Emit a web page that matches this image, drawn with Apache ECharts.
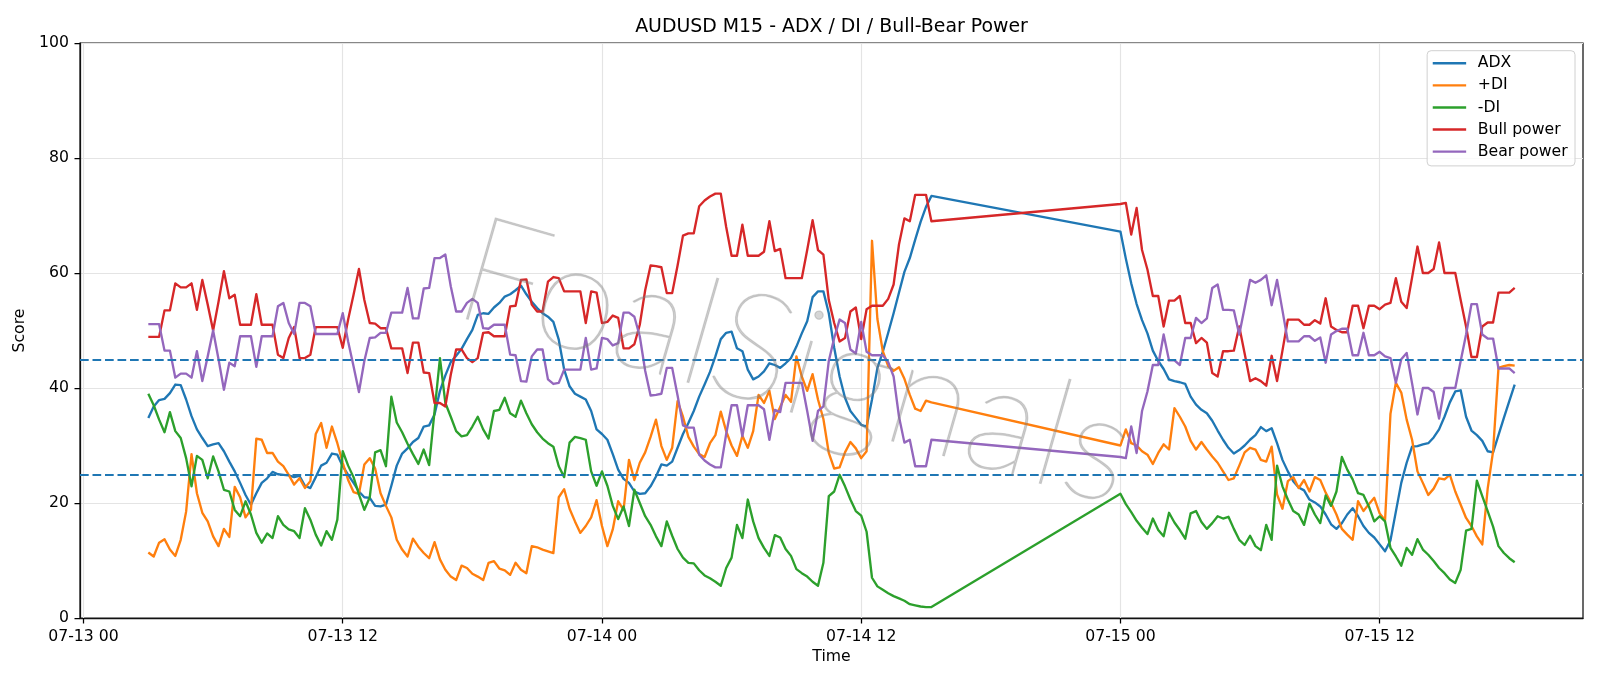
<!DOCTYPE html>
<html>
<head>
<meta charset="utf-8">
<title>AUDUSD M15 - ADX / DI / Bull-Bear Power</title>
<script src="https://cdn.jsdelivr.net/npm/echarts@6/dist/echarts.min.js"></script>
<style>
  html, body { margin: 0; padding: 0; background: #fff; }
  #chart { width: 1600px; height: 686px; }
</style>
</head>
<body>
<div id="chart"></div>
<script>
// M15 bars in two blocks (no bars between 07-14 15:15 and 07-15 00:00)
// hours are counted from 07-13 00:00
const segments = [
  { startHour: 3, bars: 146 },
  { startHour: 48, bars: 74 }
];

const tickHours = [0, 12, 24, 36, 48, 60];
const tickLabels = ['07-13 00', '07-13 12', '07-14 00', '07-14 12', '07-15 00', '07-15 12'];
const levels = [45, 25];

const adx = [
  34.8,36.8,37.9,38.1,39.1,40.6,40.5,38.0,35.1,32.8,
  31.3,29.9,30.2,30.4,29.0,27.2,25.5,23.5,21.4,19.7,
  21.7,23.5,24.3,25.4,25.0,24.9,24.8,24.5,24.7,23.0,
  22.6,24.5,26.5,27.0,28.6,28.4,26.4,24.9,23.5,22.0,
  21.0,20.9,19.5,19.4,19.7,23.0,26.5,28.6,29.5,30.6,
  31.3,33.3,33.5,35.4,39.5,42.2,44.5,45.6,46.8,48.5,
  50.1,52.7,53.0,52.9,54.0,54.8,55.9,56.3,57.0,57.8,
  56.3,55.0,53.9,53.0,52.4,51.5,48.4,43.2,40.3,39.0,
  38.5,38.0,36.0,32.8,32.0,31.0,28.5,25.8,24.2,23.5,
  22.0,21.6,21.7,22.9,24.6,26.7,26.5,27.2,29.6,32.0,
  33.9,36.0,38.5,40.6,42.8,45.5,48.5,49.6,49.8,46.9,
  46.4,43.2,41.5,42.0,42.9,44.3,44.0,43.5,44.3,45.2,
  47.2,49.5,51.6,55.8,56.8,56.8,53.0,47.0,42.0,38.3,
  36.0,34.8,33.6,33.3,38.0,43.5,46.3,49.6,53.0,56.6,
  60.2,62.6,65.8,68.9,71.5,73.4,
  67.2,62.5,58.2,54.6,51.8,49.5,46.5,44.7,43.3,41.5,
  41.2,41.0,40.7,38.5,37.1,36.2,35.6,34.3,32.6,31.0,
  29.6,28.6,29.2,30.0,31.0,31.8,33.2,32.5,33.0,30.4,
  27.5,25.5,23.8,22.7,22.2,20.6,20.1,19.4,18.0,16.3,
  15.5,16.5,18.0,19.1,17.7,16.0,14.8,14.0,12.8,11.6,
  13.5,18.5,23.5,27.0,29.8,29.9,30.2,30.4,31.4,32.8,
  35.0,37.5,39.4,39.6,35.0,32.6,31.8,30.8,29.0,28.8,
  31.8,34.8,37.7,40.6
];

const plusDI = [
  11.4,10.7,13.1,13.7,11.9,10.8,13.6,18.5,28.5,21.7,
  18.3,16.8,14.2,12.5,15.5,14.1,22.8,21.0,17.5,18.8,
  31.2,31.0,28.7,28.7,27.2,26.4,24.9,23.2,24.3,22.6,
  23.8,32.0,33.9,29.6,33.3,30.4,27.0,24.0,21.9,21.6,
  26.7,27.8,26.0,21.7,19.5,17.5,13.6,11.9,10.7,13.8,
  12.4,11.3,10.4,13.2,10.2,8.4,7.2,6.6,9.1,8.7,
  7.7,7.2,6.6,9.6,9.9,8.6,8.3,7.5,9.6,8.4,
  7.8,12.5,12.3,11.9,11.6,11.3,21.0,22.4,19.0,16.8,
  14.8,16.0,17.5,20.5,16.0,12.5,15.4,20.3,18.8,27.5,
  24.0,27.0,28.8,31.5,34.5,29.9,27.5,29.6,37.7,35.0,
  31.5,29.8,28.5,28.0,30.4,31.8,35.9,32.5,30.0,28.2,
  31.7,29.6,32.5,38.8,37.4,39.5,34.6,36.7,38.8,37.6,
  45.5,42.0,39.5,42.4,38.0,34.6,28.7,26.0,26.2,28.8,
  30.6,29.5,27.8,29.0,65.6,52.0,46.4,43.8,43.0,43.6,
  41.6,38.8,36.4,36.0,37.8,37.5,
  30.0,32.8,30.4,30.0,29.0,28.4,26.8,28.7,30.2,29.3,
  36.5,35.0,33.3,30.8,29.3,30.6,29.3,28.1,27.0,25.5,
  24.0,24.3,26.5,28.8,29.6,29.3,27.5,27.2,29.8,21.5,
  19.0,23.8,24.5,22.6,24.0,22.0,24.5,24.0,21.8,20.0,
  18.0,15.5,14.5,13.6,20.3,18.6,19.8,20.9,18.2,17.0,
  35.5,40.9,39.2,34.5,31.0,25.5,23.5,21.4,22.5,24.3,
  24.1,24.9,22.0,19.7,17.4,16.0,14.2,12.8,22.5,29.0,
  43.5,43.8,44.0,43.9
];

const minusDI = [
  39.0,37.0,34.5,32.3,35.8,32.5,31.3,27.8,22.9,28.2,
  27.5,24.3,28.1,25.5,22.3,22.0,18.8,17.7,20.3,18.0,
  14.8,13.1,14.7,13.9,17.7,16.2,15.4,15.1,13.9,19.1,
  17.1,14.5,12.6,15.1,13.6,17.1,29.0,26.5,24.5,21.5,
  18.8,21.0,28.8,29.2,26.4,38.5,34.0,32.3,30.3,28.5,
  26.8,29.3,26.6,36.0,45.2,37.4,35.0,32.5,31.6,31.8,
  33.3,35.0,32.8,31.2,36.0,36.2,38.3,35.6,35.0,37.8,
  35.6,33.7,32.3,31.2,30.4,29.8,26.4,24.5,30.5,31.5,
  31.3,31.0,25.5,23.0,25.5,23.0,19.5,17.2,19.4,16.0,
  22.3,20.0,17.7,16.2,14.2,12.5,16.8,14.3,12.0,10.5,
  9.6,9.5,8.3,7.4,6.9,6.3,5.6,8.7,10.5,16.2,
  13.9,20.6,16.8,13.9,12.2,10.8,14.4,14.0,12.0,10.8,
  8.5,7.8,7.2,6.3,5.6,9.6,21.2,22.0,24.9,22.9,
  20.6,18.6,17.8,15.0,7.0,5.5,4.9,4.3,3.8,3.4,
  3.0,2.4,2.2,2.0,1.9,1.9,
  21.6,19.8,18.4,16.9,15.7,14.6,17.3,15.3,14.2,18.3,
  16.6,15.3,13.8,18.2,18.6,16.7,15.5,16.5,17.7,17.3,
  17.6,15.5,13.6,12.7,14.3,12.5,11.8,16.2,13.6,26.5,
  22.9,20.6,18.6,18.0,16.2,19.9,18.0,16.5,21.3,19.5,
  22.0,28.0,25.8,24.1,21.7,21.4,19.4,16.8,17.7,16.8,
  12.2,10.7,9.1,12.2,11.0,13.7,11.9,11.0,9.9,8.7,
  7.8,6.7,6.1,8.4,15.2,15.5,23.9,21.2,18.6,15.9,
  12.5,11.3,10.4,9.7
];

const bullPower = [
  48.9,48.9,48.9,53.5,53.5,58.2,57.5,57.5,58.2,53.6,
  58.8,54.5,50.0,55.0,60.3,55.6,56.2,51.0,51.0,51.0,
  56.3,51.0,51.0,51.0,45.8,45.2,48.7,50.6,45.2,45.2,
  45.8,50.6,50.6,50.6,50.6,50.6,47.0,51.9,56.2,60.7,
  55.3,51.3,51.2,50.4,50.4,46.9,46.9,46.9,42.6,47.9,
  47.9,42.7,42.6,37.4,37.4,36.8,42.3,46.7,46.7,45.2,
  44.5,45.2,49.6,49.7,49.0,49.0,49.0,54.2,54.3,58.8,
  58.9,54.5,53.3,53.3,58.5,59.3,59.1,56.8,56.8,56.8,
  56.8,51.3,56.8,56.6,51.3,51.5,52.6,52.2,46.9,46.9,
  47.6,51.0,57.0,61.3,61.2,61.0,56.5,56.5,61.3,66.5,
  66.9,66.9,71.6,72.6,73.3,73.8,73.8,68.0,63.0,63.0,
  68.4,63.0,63.0,63.0,63.7,69.0,63.8,64.2,59.1,59.1,
  59.1,59.1,64.0,69.2,64.0,63.2,55.3,51.3,48.1,48.7,
  53.3,54.0,48.5,53.7,54.3,54.3,54.3,55.5,58.0,65.0,
  69.5,69.0,73.6,73.6,73.6,69.0,
  72.0,72.2,66.7,71.3,64.0,60.6,56.0,56.0,50.7,55.2,
  55.2,56.0,51.3,51.3,47.8,48.7,47.9,42.6,42.0,46.4,
  46.4,46.5,50.7,46.0,41.2,41.7,41.2,40.4,45.6,41.2,
  46.5,51.9,51.9,51.9,51.0,51.0,51.8,51.2,55.6,50.7,
  50.1,49.7,49.7,54.3,54.3,50.4,54.3,54.3,53.7,54.5,
  54.8,59.1,55.0,53.9,59.2,64.6,60.0,60.0,60.7,65.3,
  60.0,60.0,60.0,55.3,50.7,45.4,45.4,50.7,51.4,51.4,
  56.6,56.6,56.6,57.4
];

const bearPower = [
  51.1,51.1,51.1,46.5,46.5,41.8,42.5,42.5,41.8,46.4,
  41.2,45.5,50.0,45.0,39.7,44.4,43.8,49.0,49.0,49.0,
  43.7,49.0,49.0,49.0,54.2,54.8,51.3,49.4,54.8,54.8,
  54.2,49.4,49.4,49.4,49.4,49.4,53.0,48.1,43.8,39.3,
  44.7,48.7,48.8,49.6,49.6,53.1,53.1,53.1,57.4,52.1,
  52.1,57.3,57.4,62.6,62.6,63.2,57.7,53.3,53.3,54.8,
  55.5,54.8,50.4,50.3,51.0,51.0,51.0,45.8,45.7,41.2,
  41.1,45.5,46.7,46.7,41.5,40.7,40.9,43.2,43.2,43.2,
  43.2,48.7,43.2,43.4,48.7,48.5,47.4,47.8,53.1,53.1,
  52.4,49.0,43.0,38.7,38.8,39.0,43.5,43.5,38.7,33.5,
  33.1,33.1,28.4,27.4,26.7,26.2,26.2,32.0,37.0,37.0,
  31.6,37.0,37.0,37.0,36.3,31.0,36.2,35.8,40.9,40.9,
  40.9,40.9,36.0,30.8,36.0,36.8,44.7,48.7,51.9,51.3,
  46.7,46.0,51.5,46.3,45.7,45.7,45.7,44.5,42.0,35.0,
  30.5,31.0,26.4,26.4,26.4,31.0,
  28.0,27.8,33.3,28.7,36.0,39.4,44.0,44.0,49.3,44.8,
  44.8,44.0,48.7,48.7,52.2,51.3,52.1,57.4,58.0,53.6,
  53.6,53.5,49.3,54.0,58.8,58.3,58.8,59.6,54.4,58.8,
  53.5,48.1,48.1,48.1,49.0,49.0,48.2,48.8,44.4,49.3,
  49.9,50.3,50.3,45.7,45.7,49.6,45.7,45.7,46.3,45.5,
  45.2,40.9,45.0,46.1,40.8,35.4,40.0,40.0,39.3,34.7,
  40.0,40.0,40.0,44.7,49.3,54.6,54.6,49.3,48.6,48.6,
  43.4,43.4,43.4,42.6
];

const hours = [];
segments.forEach(function (seg) {
  for (let k = 0; k < seg.bars; k++) hours.push(seg.startHour + k * 0.25);
});

// matplotlib style 5% margins around the data
const firstHour = hours[0];
const lastHour = hours[hours.length - 1];
const pad = (lastHour - firstHour) * 0.05;

const FONT = 'DejaVu Sans';
const FRAME = { color: '#111', width: 1.25 };

function pairs(values) {
  return values.map(function (v, k) { return [hours[k], v]; });
}

const lines = [
  { name: 'ADX', values: adx, color: '#1f77b4' },
  { name: '+DI', values: plusDI, color: '#ff7f0e' },
  { name: '-DI', values: minusDI, color: '#2ca02c' },
  { name: 'Bull power', values: bullPower, color: '#d62728' },
  { name: 'Bear power', values: bearPower, color: '#9467bd' }
];

const series = lines.map(function (l) {
  return {
    type: 'line',
    name: l.name,
    data: pairs(l.values),
    showSymbol: false,
    symbol: 'none',
    silent: true,
    lineStyle: { color: l.color, width: 2.35, join: 'round' },
    itemStyle: { color: l.color },
    emphasis: { disabled: true }
  };
});

// the two dashed reference levels
series[series.length - 1].markLine = {
  silent: true,
  symbol: 'none',
  label: { show: false },
  lineStyle: { color: '#1f77b4', width: 2.2, type: [8.7, 3.8] },
  data: levels.map(function (v) { return { yAxis: v }; })
};

const chart = echarts.init(document.getElementById('chart'), null, { renderer: 'canvas' });

chart.setOption({
  animation: false,
  backgroundColor: '#ffffff',
  textStyle: { fontFamily: FONT },
  grid: {
    left: 80, right: 17, top: 43, bottom: 68,
    show: true, borderColor: FRAME.color, borderWidth: FRAME.width, backgroundColor: 'transparent'
  },
  legend: {
    data: lines.map(function (l) { return l.name; }),
    orient: 'vertical',
    right: 25,
    top: 50.7,
    padding: [1.5, 7.3, 3.2, 5.6],
    itemGap: 0,
    itemWidth: 33.4,
    itemHeight: 2.4,
    icon: 'rect',
    borderColor: '#d0d0d0',
    borderWidth: 1,
    borderRadius: 4,
    backgroundColor: 'rgba(255,255,255,0.8)',
    selectedMode: false,
    textStyle: { fontFamily: FONT, fontSize: 15.7, color: '#000', lineHeight: 22.1, padding: [0, 0, 0, 6.6] }
  },
  xAxis: {
    type: 'value',
    min: firstHour - pad,
    max: lastHour + pad,
    name: 'Time',
    nameLocation: 'middle',
    nameGap: 31,
    nameTextStyle: { fontFamily: FONT, fontSize: 15.7, color: '#000' },
    axisLine: { show: true, onZero: false, lineStyle: FRAME },
    axisTick: {
      show: true, length: 5.5, customValues: tickHours,
      lineStyle: { color: '#000', width: 1.25 }
    },
    axisLabel: {
      customValues: tickHours,
      margin: 10.5,
      fontFamily: FONT, fontSize: 15.7, color: '#000',
      formatter: function (v) {
        const k = tickHours.indexOf(Math.round(v * 1000) / 1000);
        return k >= 0 ? tickLabels[k] : '';
      }
    },
    splitLine: { show: true, lineStyle: { color: '#e4e4e4', width: 1.2 } }
  },
  yAxis: {
    type: 'value',
    min: 0,
    max: 100,
    interval: 20,
    name: 'Score',
    nameLocation: 'middle',
    nameRotate: 90,
    nameGap: 42,
    nameTextStyle: { fontFamily: FONT, fontSize: 15.7, color: '#000' },
    axisLine: { show: true, onZero: false, lineStyle: FRAME },
    axisTick: { show: true, length: 5.5, lineStyle: { color: '#000', width: 1.25 } },
    axisLabel: { margin: 11, fontFamily: FONT, fontSize: 15.7, color: '#000' },
    splitLine: { show: true, lineStyle: { color: '#e4e4e4', width: 1.2 } }
  },
  graphic: [
    {
      type: 'text',
      x: 831.5,
      y: 26.8,
      silent: true,
      style: {
        text: 'AUDUSD M15 - ADX / DI / Bull-Bear Power',
        fontFamily: FONT, fontSize: 18.9, fill: '#000',
        align: 'center', verticalAlign: 'middle'
      }
    },
    {
      // faint rotated watermark over the plot
      type: 'text',
      x: 796,
      y: 363,
      rotation: -16 * Math.PI / 180,
      silent: true,
      z: 100,
      style: {
        text: 'FoalSignals',
        fontFamily: 'Lato', fontSize: 150, fontWeight: 100,
        fill: 'rgba(128,128,128,0.32)',
        stroke: 'rgba(128,128,128,0.32)',
        lineWidth: 1.2,
        align: 'center', verticalAlign: 'middle'
      }
    }
  ],
  series: series
});
</script>
</body>
</html>
